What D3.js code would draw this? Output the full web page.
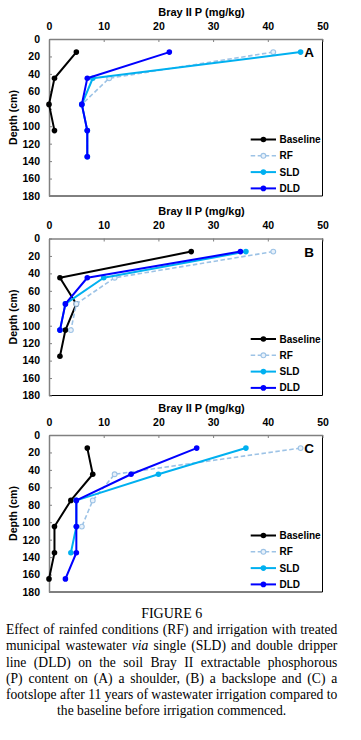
<!DOCTYPE html>
<html>
<head>
<meta charset="utf-8">
<script src="https://cdn.jsdelivr.net/npm/d3@7"></script>
<style>
body { margin: 0; background: #fff; }
svg { display: block; }
</style>
</head>
<body>
<script>
// sampling depths (cm) shared by all panels
const depths = [15, 45, 75, 105, 135, 165];
const xTicks = [0, 10, 20, 30, 40, 50];
const yTicks = [0, 20, 40, 60, 80, 100, 120, 140, 160, 180];
const seriesNames = ["Baseline", "RF", "SLD", "DLD"];
const panelLetters = ["A", "B", "C"];

// (A) shoulder
const baselineA = [5, 1, 0, 1];
const rfA = [41, 11, 6, 7, 7];
const sldA = [46, 8, 6, 7, 7];
const dldA = [22, 7, 6, 7, 7];

// (B) backslope
const baselineB = [26, 2, 5, 3, 2];
const rfB = [41, 12, 5, 4];
const sldB = [36, 10, 3, 2];
const dldB = [35, 7, 3, 2];

// (C) footslope
const baselineC = [7, 8, 4, 1, 1, 0];
const rfC = [46, 12, 8, 6];
const sldC = [36, 20, 5, 5, 4];
const dldC = [27, 15, 5, 5, 5, 3];

const xTitle = "Bray II P (mg/kg)";
const yTitle = "Depth (cm)";
const figureTitle = "FIGURE 6";
const captionLines = [
    "Effect of rainfed conditions (RF) and irrigation with treated",
    "municipal wastewater via single (SLD) and double dripper",
    "line (DLD) on the soil Bray II extractable phosphorous",
    "(P) content on (A) a shoulder, (B) a backslope and (C) a",
    "footslope after 11 years of wastewater irrigation compared to",
    "the baseline before irrigation commenced."
];
const italicWords = ["via"];

const W = 361, H = 740;
const sans = "'Liberation Sans', Arial, sans-serif";
const serif = "'Liberation Serif', 'Times New Roman', serif";
const colors = {Baseline: "#000000", RF: "#9dc3e6", SLD: "#00b0f0", DLD: "#0000ff"};
const panelTops = [39, 238.5, 435];
const plotH = 157;

const svg = d3.select("body").append("svg")
    .attr("width", W)
    .attr("height", H);

const x = d3.scaleLinear().domain([0, 50]).range([49, 322.5]);

function drawPanel(top, letter, values) {
    const y = d3.scaleLinear().domain([0, 180]).range([top, top + plotH]);
    const g = svg.append("g");

    // plot border (right + bottom in black)
    g.append("line").attr("x1", x(50)).attr("x2", x(50)).attr("y1", top).attr("y2", top + plotH)
        .attr("stroke", "#000").attr("stroke-width", 1);
    g.append("line").attr("x1", x(0)).attr("x2", x(50)).attr("y1", top + plotH).attr("y2", top + plotH)
        .attr("stroke", "#000").attr("stroke-width", 1);

    const gx = g.append("g")
        .attr("transform", `translate(0,${top})`)
        .call(d3.axisTop(x).tickValues(xTicks).tickSize(-3).tickSizeOuter(0).tickPadding(9.5));
    const gy = g.append("g")
        .attr("transform", `translate(${x(0)},0)`)
        .call(d3.axisLeft(y).tickValues(yTicks).tickSize(-3).tickSizeOuter(0).tickPadding(9));
    [gx, gy].forEach(a => {
        a.attr("font-family", sans).attr("font-size", 10.5).attr("font-weight", "bold");
        a.select(".domain").attr("stroke", "#808080").attr("stroke-width", 1.5);
        a.selectAll(".tick line").attr("stroke", "#808080").attr("stroke-width", 1);
        a.selectAll(".tick text").attr("fill", "#000");
    });

    g.append("text")
        .attr("x", 201.5).attr("y", top - 23.5)
        .attr("text-anchor", "middle")
        .attr("font-family", sans).attr("font-size", 11).attr("font-weight", "bold")
        .text(xTitle);

    g.append("text")
        .attr("transform", `translate(13,${top + plotH / 2}) rotate(-90)`)
        .attr("text-anchor", "middle")
        .attr("dominant-baseline", "central")
        .attr("font-family", sans).attr("font-size", 10.5).attr("font-weight", "bold")
        .text(yTitle);

    const line = d3.line().x(d => x(d.v)).y(d => y(d.d));

    seriesNames.forEach((name, i) => {
        const pts = values[i].map((v, j) => ({v: v, d: depths[j]}));
        const isRF = name === "RF";
        g.append("path")
            .datum(pts)
            .attr("d", line)
            .attr("fill", "none")
            .attr("stroke", colors[name])
            .attr("stroke-width", isRF ? 1.6 : 2)
            .attr("stroke-dasharray", isRF ? "4.5,2.5" : null)
            .attr("stroke-linejoin", "round");
        g.selectAll(null)
            .data(pts)
            .join("circle")
            .attr("cx", d => x(d.v))
            .attr("cy", d => y(d.d))
            .attr("r", isRF ? 2.4 : 2.8)
            .attr("fill", isRF ? "#e8f1fa" : colors[name])
            .attr("stroke", colors[name])
            .attr("stroke-width", isRF ? 1.1 : 0);
    });

    // panel letter
    g.append("text")
        .attr("x", 309).attr("y", top + 18)
        .attr("text-anchor", "middle")
        .attr("font-family", sans).attr("font-size", 13.5).attr("font-weight", "bold")
        .text(letter);

    // legend
    const lg = g.append("g");
    seriesNames.forEach((name, i) => {
        const ly = top + 100.5 + i * 16.3;
        const isRF = name === "RF";
        lg.append("line")
            .attr("x1", 250.7).attr("x2", 276).attr("y1", ly).attr("y2", ly)
            .attr("stroke", colors[name])
            .attr("stroke-width", isRF ? 1.6 : 2)
            .attr("stroke-dasharray", isRF ? "4.5,2.5" : null);
        lg.append("circle")
            .attr("cx", 263.4).attr("cy", ly)
            .attr("r", isRF ? 2.4 : 2.8)
            .attr("fill", isRF ? "#e8f1fa" : colors[name])
            .attr("stroke", colors[name])
            .attr("stroke-width", isRF ? 1.1 : 0);
        lg.append("text")
            .attr("x", 279.5).attr("y", ly)
            .attr("dominant-baseline", "central")
            .attr("font-family", sans).attr("font-size", 10).attr("font-weight", "bold")
            .text(name);
    });
}

drawPanel(panelTops[0], panelLetters[0], [baselineA, rfA, sldA, dldA]);
drawPanel(panelTops[1], panelLetters[1], [baselineB, rfB, sldB, dldB]);
drawPanel(panelTops[2], panelLetters[2], [baselineC, rfC, sldC, dldC]);

// caption
svg.append("text")
    .attr("x", 171.7).attr("y", 618.3)
    .attr("text-anchor", "middle")
    .attr("font-family", serif).attr("font-size", 14)
    .text(figureTitle);

const capLeft = 6, capRight = 337.3, capSize = 13.6;
const cap = svg.append("g").attr("font-family", serif).attr("font-size", capSize).attr("fill", "#000");

captionLines.forEach((txt, li) => {
    const by = 634.3 + li * 16.1;
    const words = txt.split(" ");
    const nodes = words.map(w => cap.append("text")
        .attr("y", by)
        .attr("font-style", italicWords.includes(w) ? "italic" : null)
        .text(w));
    let widths = nodes.map(n => n.node().getComputedTextLength());
    let total = d3.sum(widths);
    const last = li === captionLines.length - 1;
    let gap, cx;
    if (last) {
        gap = capSize * 0.25;
        const full = total + gap * (words.length - 1);
        cx = (capLeft + capRight) / 2 - full / 2;
    } else {
        gap = (capRight - capLeft - total) / (words.length - 1);
        // squeeze the line a touch if the words would not fit
        if (gap < 2.2) {
            const k = (capRight - capLeft - 2.2 * (words.length - 1)) / total;
            nodes.forEach((n, i) => n.attr("textLength", widths[i] * k).attr("lengthAdjust", "spacingAndGlyphs"));
            widths = widths.map(w => w * k);
            gap = 2.2;
        }
        cx = capLeft;
    }
    nodes.forEach((n, i) => {
        n.attr("x", cx);
        cx += widths[i] + gap;
    });
});
</script>
</body>
</html>
